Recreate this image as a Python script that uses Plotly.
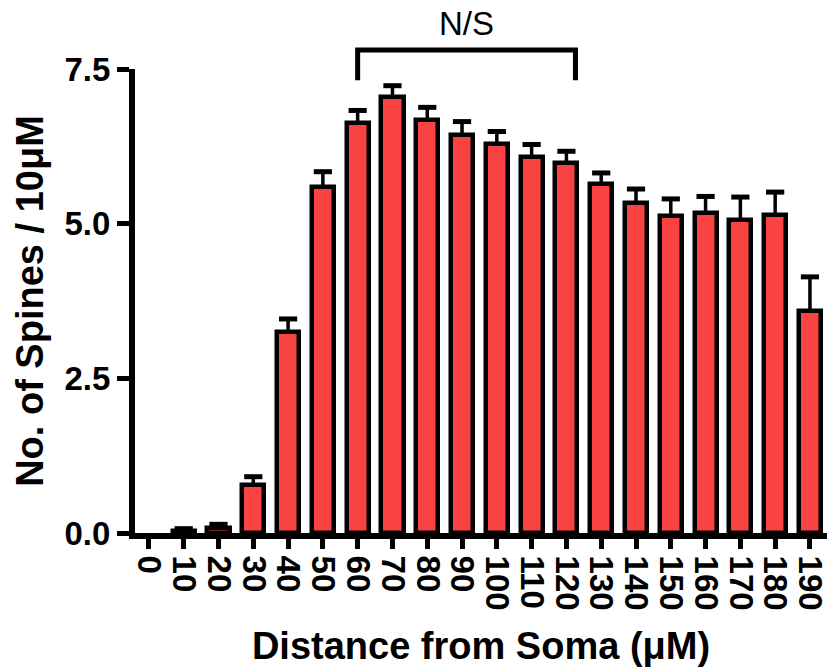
import plotly.graph_objects as go

categories = ["0", "10", "20", "30", "40", "50", "60", "70", "80", "90", "100",
              "110", "120", "130", "140", "150", "160", "170", "180", "190"]
spines = [0.0, 0.03, 0.08, 0.77, 3.25, 5.60, 6.63, 7.04, 6.67, 6.44, 6.29,
          6.08, 5.98, 5.64, 5.34, 5.13, 5.17, 5.06, 5.14, 3.59]
sem = [0.0, 0.04, 0.06, 0.14, 0.21, 0.24, 0.20, 0.19, 0.21, 0.21, 0.20,
       0.20, 0.19, 0.18, 0.22, 0.27, 0.27, 0.37, 0.37, 0.55]
y_ticks = [0.0, 2.5, 5.0, 7.5]
ns_span = [6.0, 12.26]   # bracket ends (category positions)
ns_label = "N/S"

xpos = list(range(len(categories)))
caps = [v + e if v > 0 else None for v, e in zip(spines, sem)]
outline = [4.5 if v > 0 else 0 for v in spines]

FONT = "Liberation Sans, Arial, sans-serif"
RED = "#F94242"

fig = go.Figure()
fig.add_trace(go.Bar(
    x=xpos, y=spines, width=0.635,
    marker=dict(color=RED, line=dict(color="black", width=outline)),
    error_y=dict(type="data", array=sem, arrayminus=[0] * len(sem), symmetric=False,
                 color="black", thickness=3.5, width=0),
    showlegend=False,
))
fig.add_trace(go.Scatter(
    x=xpos, y=caps, mode="markers",
    marker=dict(symbol="line-ew", size=13, line=dict(color="black", width=5)),
    showlegend=False, hoverinfo="skip", cliponaxis=False,
))

fig.add_shape(type="path", xref="x", yref="paper",
              path=f"M {ns_span[0]},0.976 L {ns_span[0]},1.041 L {ns_span[1]},1.041 L {ns_span[1]},0.976",
              line=dict(color="black", width=5))
fig.add_annotation(x=sum(ns_span) / 2, y=1.097, xref="x", yref="paper", text=ns_label,
                   showarrow=False, font=dict(family=FONT, size=33, color="black"),
                   xanchor="center", yanchor="middle")

fig.update_layout(
    width=829, height=668,
    margin=dict(l=135, r=0, t=69, b=135),
    plot_bgcolor="white", paper_bgcolor="white",
    font=dict(family=FONT, color="black"),
    bargap=0,
)
fig.update_xaxes(
    range=[-0.40, 19.49], tickmode="array", tickvals=xpos, ticktext=categories,
    tickangle=90, ticks="outside", ticklen=10, tickwidth=5, tickcolor="black",
    ticklabeloverflow="allow",
    showline=True, linewidth=6, linecolor="black", showgrid=False, zeroline=False,
    tickfont=dict(family=FONT, size=33, color="black", weight="bold"),
    title=dict(text="Distance from Soma (\u03bcM)",
               font=dict(family=FONT, size=38, color="black", weight="bold"), standoff=25),
)
fig.update_yaxes(
    range=[0, 7.5], tickmode="array", tickvals=y_ticks, tickformat=".1f",
    ticks="outside", ticklen=12, tickwidth=5, tickcolor="black",
    showline=True, linewidth=6, linecolor="black", showgrid=False, zeroline=False,
    tickfont=dict(family=FONT, size=33, color="black", weight="bold"),
    title=dict(text="No. of Spines / 10\u03bcM",
               font=dict(family=FONT, size=38, color="black", weight="bold"), standoff=11),
)

fig.write_html("out.html")
